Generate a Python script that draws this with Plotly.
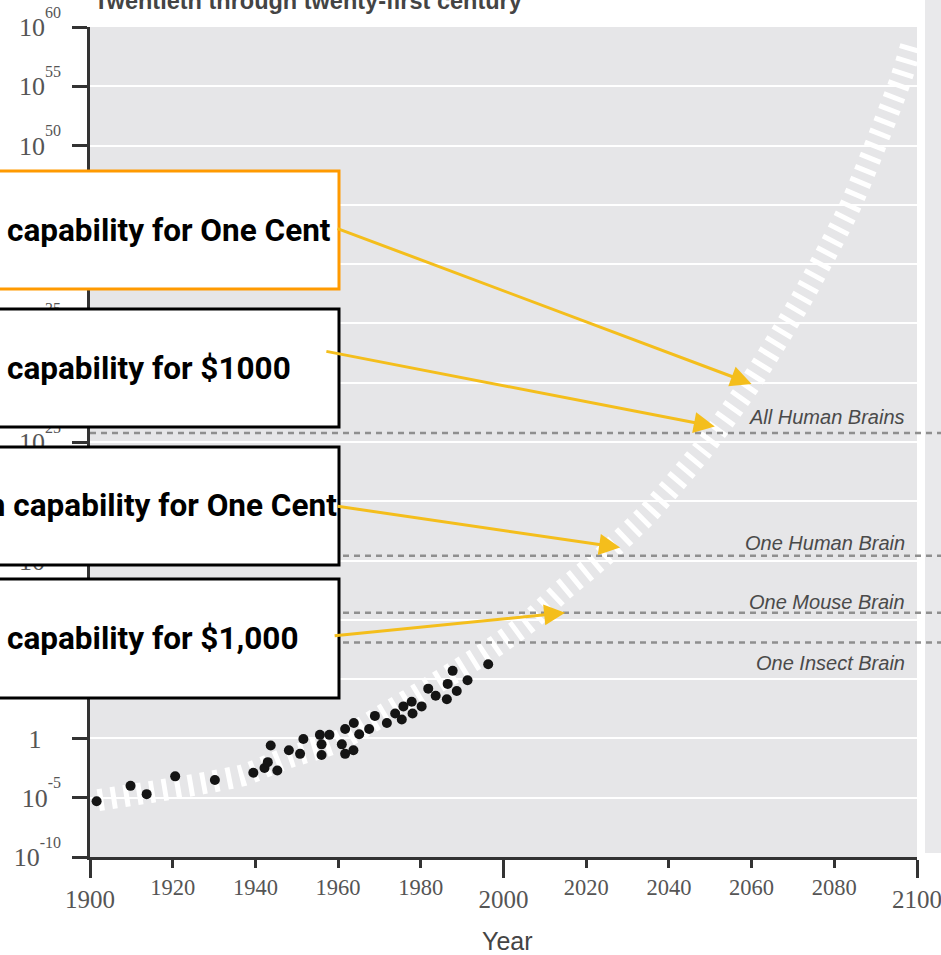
import plotly.graph_objects as go

# ---------------- data ----------------
dot_years = [1901.6, 1909.8, 1913.7, 1920.6, 1930.2, 1939.5, 1942.2, 1943.0, 1945.3, 1943.7,
             1948.1, 1950.8, 1951.6, 1955.6, 1957.9, 1956.0, 1956.0, 1960.9, 1961.7, 1963.7,
             1961.7, 1963.8, 1965.1, 1967.5, 1968.9, 1971.8, 1973.8, 1975.4, 1975.8, 1977.8,
             1978.0, 1980.2, 1981.8, 1983.6, 1986.3, 1986.5, 1988.7, 1987.7, 1991.3, 1996.3]
dot_log_cps = [-5.3, -4.0, -4.7, -3.2, -3.5, -2.9, -2.5, -2.0, -2.7, -0.6,
               -1.0, -1.3, -0.05, 0.3, 0.3, -0.5, -1.4, -0.5, -1.3, -1.0,
               0.8, 1.3, 0.35, 0.8, 1.9, 1.3, 2.1, 1.6, 2.7, 3.1,
               2.1, 2.7, 4.2, 3.6, 3.3, 4.6, 4.0, 5.7, 4.9, 6.25]

trend_years = [1902, 1915, 1927, 1937, 1948, 1959, 1971, 1982, 1996, 2006,
               2014, 2023, 2035, 2048, 2060, 2072, 2084, 2096, 2099]
trend_log_cps = [-5.2, -4.5, -3.8, -3.1, -1.6, -0.4, 2.0, 4.3, 7.3, 9.8,
                 12.4, 15.0, 19.0, 24.3, 30.1, 37.0, 45.0, 55.5, 58.9]

brain_labels = ["All Human Brains", "One Human Brain", "One Mouse Brain", "One Insect Brain"]
brain_log_cps = [25.75, 15.4, 10.6, 8.1]

callout_texts = ["capability for One Cent", "capability for $1000",
                 "Human Brain capability for One Cent", "capability for $1,000"]
milestone_year = [2060.0, 2051.1, 2028.2, 2014.9]
milestone_log_cps = [29.9, 26.3, 16.1, 10.6]
callout_year = [1959.5, 1956.8, 1959.5, 1958.8]
callout_log_cps = [43.05, 32.67, 19.6, 8.64]

y_tick_exps = [-10, -5, 0, 5, 10, 15, 20, 25, 30, 35, 40, 45, 50, 55, 60]
x_major_ticks = [1900, 2000, 2100]
x_minor_ticks = [1920, 1940, 1960, 1980, 2020, 2040, 2060, 2080]

title_text = "Twentieth through twenty-first century"
x_title = "Year"

# ---------------- layout helpers ----------------
W, H = 941, 955
L, R, T, B = 90, 24, 27, 98
PW, PH = W - L - R, H - T - B


def px(xp):
    return (xp - L) / PW


def py(yp):
    return (H - B - yp) / PH


def ytick_label(e):
    if e == 0:
        return "1" + "\u00a0" * 3
    return "10<sup><sup><span style='font-size:16px'>%d</span></sup></sup>" % e


SERIF = "Liberation Serif"
SANS = "Liberation Sans"
GOLD = "#F4BE1C"

fig = go.Figure()

fig.add_trace(go.Scatter(
    x=trend_years, y=trend_log_cps, mode="lines", xaxis="x", yaxis="y",
    line=dict(color="white", width=22, dash="5px,8px", shape="spline", smoothing=0.6),
    hoverinfo="skip", showlegend=False))

fig.add_trace(go.Scatter(
    x=dot_years, y=dot_log_cps, mode="markers", xaxis="x2", yaxis="y",
    marker=dict(color="#141414", size=10, line=dict(width=0)),
    hoverinfo="skip", showlegend=False))

shapes = []
# right grey panel
shapes.append(dict(type="rect", xref="paper", yref="paper", x0=px(925), x1=px(950),
                   y0=py(853), y1=py(-10), fillcolor="#e9e9eb", line=dict(width=0), layer="below"))
# brain reference lines
for lv in brain_log_cps:
    shapes.append(dict(type="line", xref="paper", yref="y", x0=0, x1=px(945), y0=lv, y1=lv,
                       line=dict(color="#8f8f8f", width=2.5, dash="6px,5px"), layer="above"))
# callout boxes
box_rows = [(171, 289, "#FF9A00"), (309, 427, "#000000"), (447, 565, "#000000"), (579, 698, "#000000")]
for (y0, y1, col) in box_rows:
    shapes.append(dict(type="rect", xref="paper", yref="paper", x0=px(-30), x1=px(339),
                       y0=py(y1), y1=py(y0), fillcolor="white",
                       line=dict(color=col, width=3), layer="above"))

annotations = []
BOX_FONT = dict(family="Roboto", size=31.5, color="black", weight="bold")
for i, (y0, y1, col) in enumerate(box_rows):
    cy = (y0 + y1) / 2.0
    if i == 2:
        annotations.append(dict(xref="paper", yref="paper", x=px(339), y=py(cy), xanchor="right",
                                yanchor="middle", text=callout_texts[i], showarrow=False,
                                font=BOX_FONT))
    else:
        annotations.append(dict(xref="paper", yref="paper", x=px(5), y=py(cy), xanchor="left",
                                yanchor="middle", text=callout_texts[i], showarrow=False,
                                font=BOX_FONT))
# arrows
for i in range(4):
    annotations.append(dict(x=milestone_year[i], y=milestone_log_cps[i], xref="x", yref="y",
                            ax=callout_year[i], ay=callout_log_cps[i], axref="x", ayref="y",
                            text="", showarrow=True, arrowhead=2, arrowsize=1.4, arrowwidth=3,
                            arrowcolor=GOLD))
# brain labels
label_shift = [16, 13, 11, -21]
for i, lab in enumerate(brain_labels):
    annotations.append(dict(xref="paper", yref="y", x=px(907), y=brain_log_cps[i], xanchor="right",
                            yanchor="middle", yshift=label_shift[i], text="<i>%s</i>" % lab,
                            showarrow=False, font=dict(family=SANS, size=20, color="#4a4a4a")))
# title (cut at top) and axis title
annotations.append(dict(xref="paper", yref="paper", x=px(92), y=py(16), xanchor="left",
                        yanchor="bottom", text=title_text, showarrow=False,
                        font=dict(family=SANS, size=23.5, color="#444444", weight="bold")))
annotations.append(dict(xref="paper", yref="paper", x=px(507), y=py(941), xanchor="center",
                        yanchor="middle", text=x_title, showarrow=False,
                        font=dict(family=SANS, size=25, color="#444444")))

fig.update_layout(
    width=W, height=H,
    margin=dict(l=L, r=R, t=T, b=B, pad=0, autoexpand=False),
    paper_bgcolor="white", plot_bgcolor="#e6e6e8",
    showlegend=False, hovermode=False,
    xaxis=dict(range=[1900, 2100], tickmode="array", tickvals=x_major_ticks,
               ticktext=[str(v) for v in x_major_ticks], automargin=False,
               ticklabeloverflow="allow",
               ticks="outside", ticklen=18, tickwidth=2.5, tickcolor="#333",
               showline=True, linecolor="#333", linewidth=2.5, showgrid=False, zeroline=False,
               tickfont=dict(family=SERIF, size=25, color="#555")),
    xaxis2=dict(range=[1900, 2100], overlaying="x", anchor="y", side="bottom",
                tickmode="array", tickvals=x_minor_ticks, ticktext=[str(v) for v in x_minor_ticks],
                automargin=False, ticklabeloverflow="allow",
                ticks="outside", ticklen=10, tickwidth=2.5, tickcolor="#333",
                showline=False, showgrid=False, zeroline=False,
                tickfont=dict(family=SERIF, size=22.5, color="#555")),
    yaxis=dict(range=[-10, 60], tickmode="array", tickvals=y_tick_exps,
               ticktext=[ytick_label(e) for e in y_tick_exps], automargin=False,
               ticklabeloverflow="allow", ticklabelstandoff=6,
               ticks="outside", ticklen=15, tickwidth=2.5, tickcolor="#333",
               showline=True, linecolor="#333", linewidth=2.5,
               showgrid=True, gridcolor="white", gridwidth=2, zeroline=False,
               tickfont=dict(family=SERIF, size=26, color="#555")),
    shapes=shapes, annotations=annotations,
)

fig.write_html("out.html", config={"displayModeBar": False},
               post_script="document.body.style.margin='0px';document.body.style.overflow='hidden';")
